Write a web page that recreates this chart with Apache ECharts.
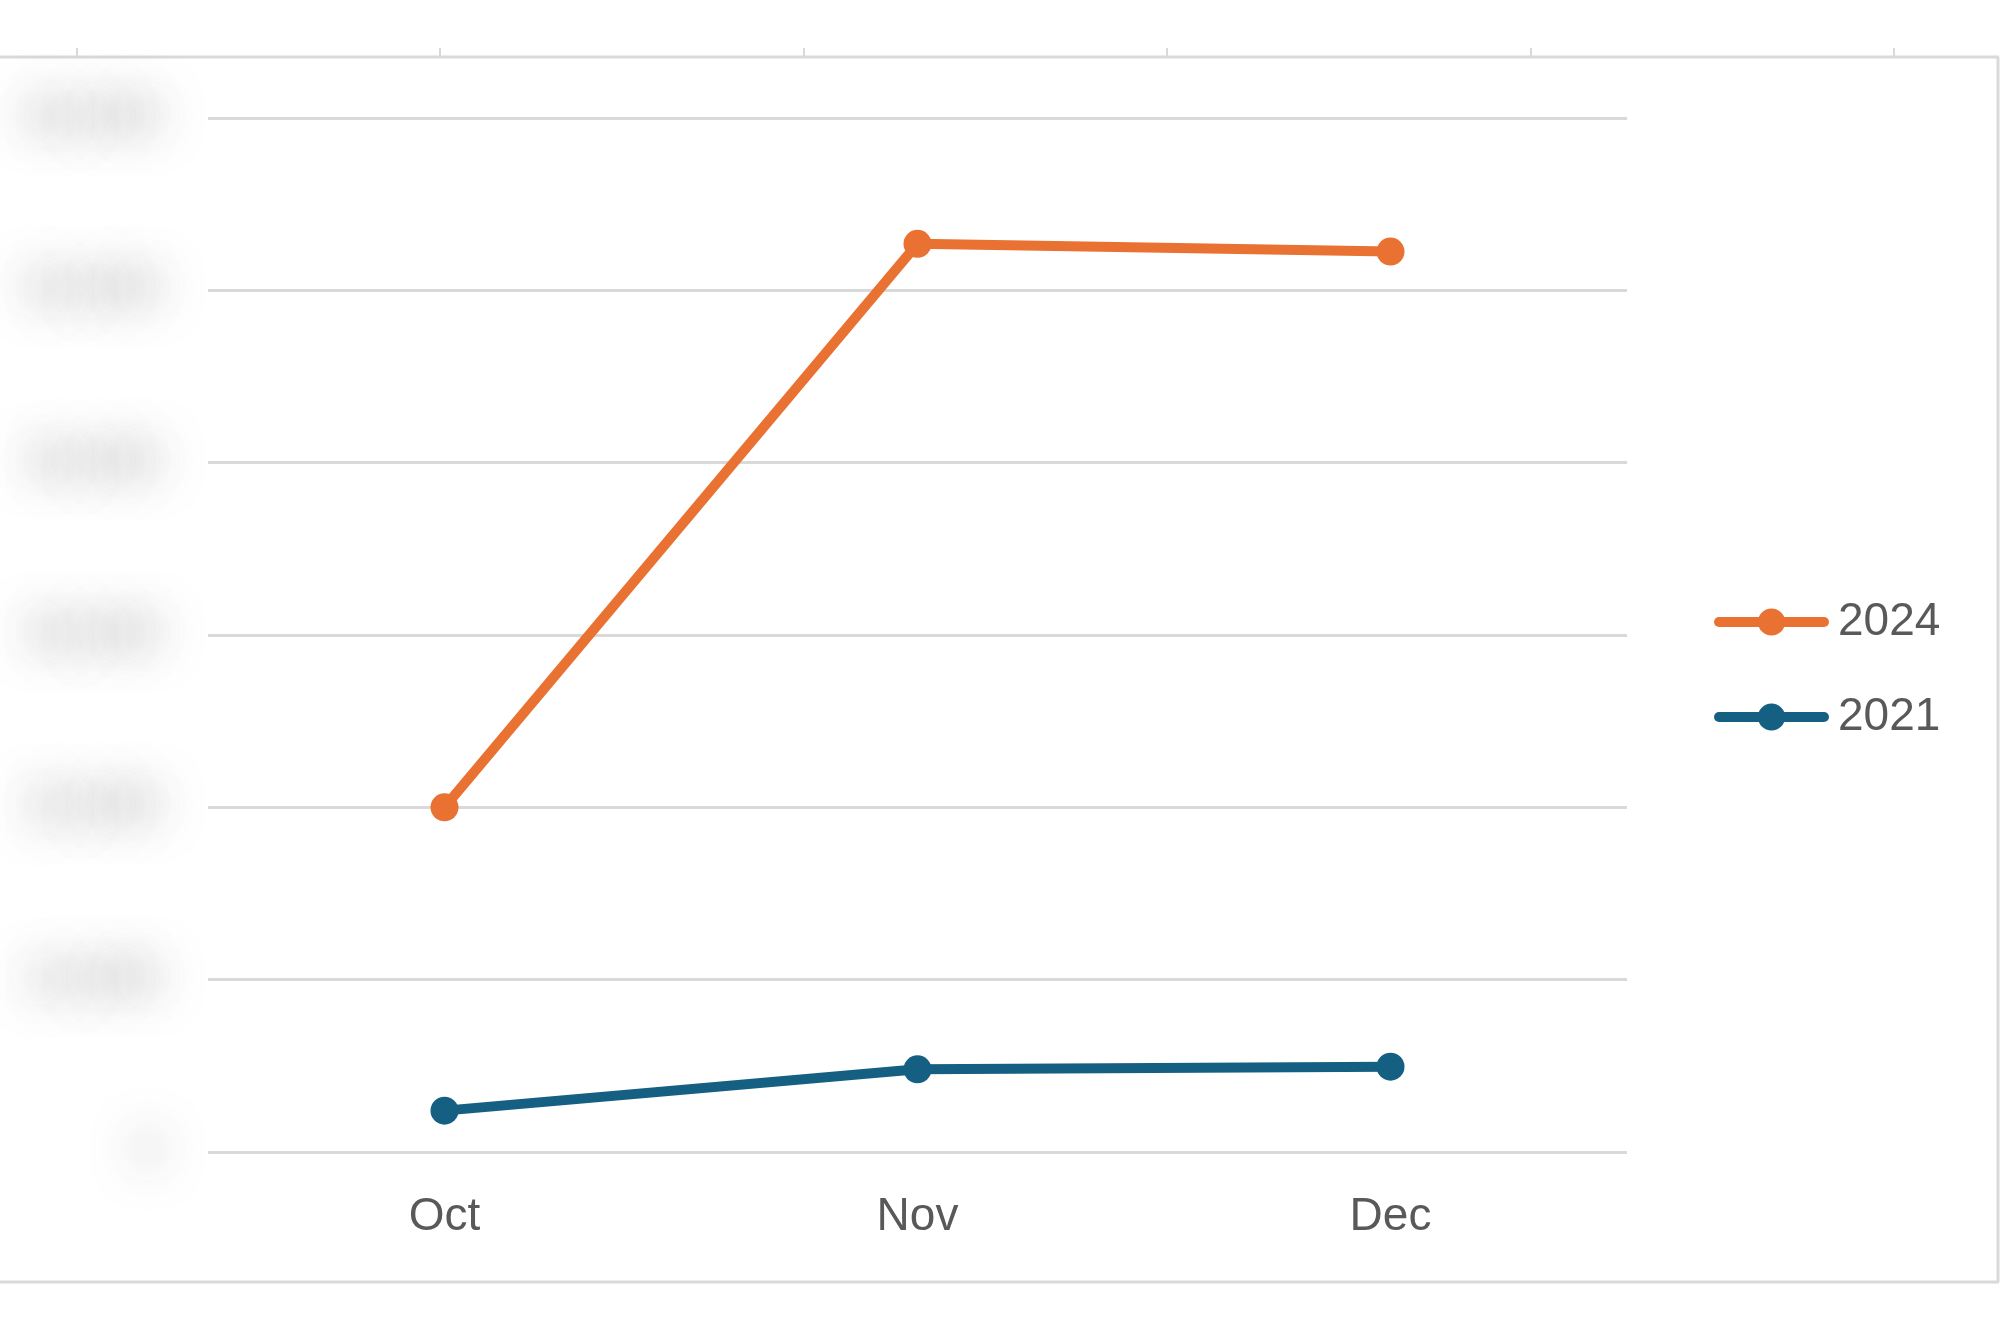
<!DOCTYPE html>
<html>
<head>
<meta charset="utf-8">
<title>Oct - Dec</title>
<script src="https://cdn.jsdelivr.net/npm/echarts@6/dist/echarts.min.js"></script>
<style>
  html, body { margin: 0; padding: 0; background: #ffffff; }
  #chart { width: 2000px; height: 1332px; }
</style>
</head>
<body>
<div id="chart"></div>
<script>
// data (y labels are blurred in the source, scale is a guess)
const months = ['Oct', 'Nov', 'Dec'];
const year2024 = [20000, 52700, 52250];
const year2021 = [2400, 4800, 4950];
const yMin = 0;
const yMax = 60000;
const yStep = 10000;

const chart = echarts.init(document.getElementById('chart'));

// light grey frame of the sheet around the chart
const frameColor = '#d9d9d9';
const rulerTicks = [77, 440, 804, 1167, 1531, 1894].map(x => ({
  type: 'line',
  shape: { x1: x, y1: 48, x2: x, y2: 56 },
  style: { stroke: frameColor, lineWidth: 2 },
  silent: true,
}));

chart.setOption({
  backgroundColor: '#ffffff',
  animation: false,
  textStyle: { fontFamily: 'Liberation Sans, Arial, sans-serif' },
  grid: {
    left: 208,
    right: 373,
    top: 118,
    bottom: 180,
    outerBoundsMode: 'none',
  },
  legend: {
    data: ['2024', '2021'],
    orient: 'vertical',
    left: 1709,
    top: 592,
    itemWidth: 105,
    itemHeight: 34,
    itemGap: 45,
    lineStyle: { width: 10, cap: 'round' },
    textStyle: { color: '#595959', fontSize: 46, lineHeight: 50, padding: [0, 0, 0, 9] },
  },
  xAxis: {
    type: 'category',
    data: months,
    axisLine: { show: false },
    axisTick: { show: false },
    axisLabel: { color: '#595959', fontSize: 46, margin: 42 },
  },
  yAxis: {
    type: 'value',
    min: yMin,
    max: yMax,
    interval: yStep,
    axisLine: { show: false },
    axisTick: { show: false },
    splitLine: { lineStyle: { color: frameColor, width: 3 } },
    // labels are blurred in the reference: draw only a soft shadow of them
    axisLabel: {
      fontSize: 44,
      color: '#8c8c8c',
      margin: 48 + 3000,
      textShadowColor: 'rgba(120,120,120,0.9)',
      textShadowBlur: 45,
      textShadowOffsetX: 3000,
      formatter: v => v.toLocaleString('en-US'),
    },
  },
  series: [
    {
      name: '2024',
      type: 'line',
      data: year2024,
      symbol: 'circle',
      symbolSize: 28,
      lineStyle: { color: '#E97132', width: 10 },
      itemStyle: { color: '#E97132' },
      z: 3,
    },
    {
      name: '2021',
      type: 'line',
      data: year2021,
      symbol: 'circle',
      symbolSize: 28,
      lineStyle: { color: '#156082', width: 10 },
      itemStyle: { color: '#156082' },
      z: 3,
    },
  ],
  graphic: [
    {
      type: 'line',
      shape: { x1: 0, y1: 57, x2: 1999, y2: 57 },
      style: { stroke: frameColor, lineWidth: 3 },
      silent: true,
    },
    {
      type: 'line',
      shape: { x1: 1998, y1: 57, x2: 1998, y2: 1282 },
      style: { stroke: frameColor, lineWidth: 3 },
      silent: true,
    },
    {
      type: 'line',
      shape: { x1: 0, y1: 1282, x2: 1999, y2: 1282 },
      style: { stroke: frameColor, lineWidth: 3 },
      silent: true,
    },
  ].concat(rulerTicks),
});

window.addEventListener('resize', () => {
  chart.resize();
});
</script>
</body>
</html>
